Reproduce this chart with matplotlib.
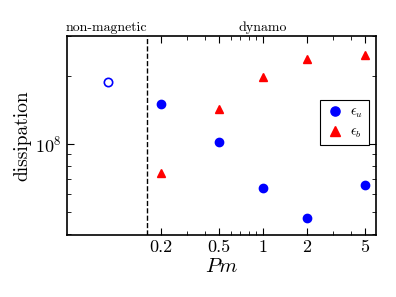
import matplotlib
matplotlib.use('Agg')
import matplotlib.pyplot as plt
from matplotlib.ticker import FixedLocator, NullFormatter, LogLocator

plt.rcParams['font.family'] = 'serif'
plt.rcParams['font.serif'] = ['cmr10']
plt.rcParams['mathtext.fontset'] = 'cm'
plt.rcParams['axes.formatter.use_mathtext'] = True

# data
pm = [0.2, 0.5, 1, 2, 5]
eps_u = [1.50e8, 1.02e8, 6.4e7, 4.72e7, 6.6e7]
eps_b = [7.4e7, 1.43e8, 1.98e8, 2.38e8, 2.48e8]
pm_nonmag = [0.087]
eps_nonmag = [1.87e8]
pm_crit = 0.16
xtick_vals = [0.2, 0.5, 1, 2, 5]
xtick_labels = ['0.2', '0.5', '1', '2', '5']
xminor_vals = [0.3, 0.4, 0.6, 0.7, 0.8, 0.9, 3, 4]

fig = plt.figure(figsize=(3.96, 2.97), dpi=100)
ax = fig.add_axes([0.169, 0.209, 0.7805, 0.670])

ax.plot(pm, eps_u, 'o', color='blue', ms=6, mec='blue', label=r'$\epsilon_u$')
ax.plot(pm, eps_b, '^', color='red', ms=6, mec='red', label=r'$\epsilon_b$')
ax.plot(pm_nonmag, eps_nonmag, 'o', mfc='none', mec='blue', mew=1.2, ms=6)
ax.axvline(pm_crit, color='black', ls='--', lw=1.0)

ax.set_xscale('log')
ax.set_yscale('log')
ax.set_xlim(0.0455, 5.94)
ax.set_ylim(3.96e7, 3.0e8)

ax.xaxis.set_major_locator(FixedLocator(xtick_vals))
ax.set_xticklabels(xtick_labels)
ax.xaxis.set_minor_locator(FixedLocator(xminor_vals))
ax.xaxis.set_minor_formatter(NullFormatter())
ax.yaxis.set_minor_locator(LogLocator(base=10, subs=range(2, 10)))
ax.yaxis.set_minor_formatter(NullFormatter())

ax.tick_params(which='both', direction='in', top=True, right=True, labelsize=13)
ax.tick_params(which='major', length=5, width=0.8)
ax.tick_params(which='minor', length=3, width=0.6)
for s in ax.spines.values():
    s.set_linewidth(1.2)

ax.set_xlabel(r'$Pm$', fontsize=15, labelpad=2)
ax.set_ylabel('dissipation', fontsize=14, labelpad=3)

ax.text(0.0853, 1.01, 'non-magnetic', transform=ax.get_xaxis_transform(),
        ha='center', va='bottom', fontsize=10)
ax.text(1.0, 1.01, 'dynamo', transform=ax.get_xaxis_transform(),
        ha='center', va='bottom', fontsize=10)

leg = ax.legend(loc='center right', bbox_to_anchor=(0.977, 0.563), fontsize=10,
                fancybox=False, edgecolor='black', framealpha=1,
                handletextpad=0.4, borderpad=0.4, labelspacing=0.4,
                handlelength=1.4, borderaxespad=0, markerscale=1.1)
leg.get_frame().set_linewidth(0.8)

fig.savefig('out.png', dpi=100)
